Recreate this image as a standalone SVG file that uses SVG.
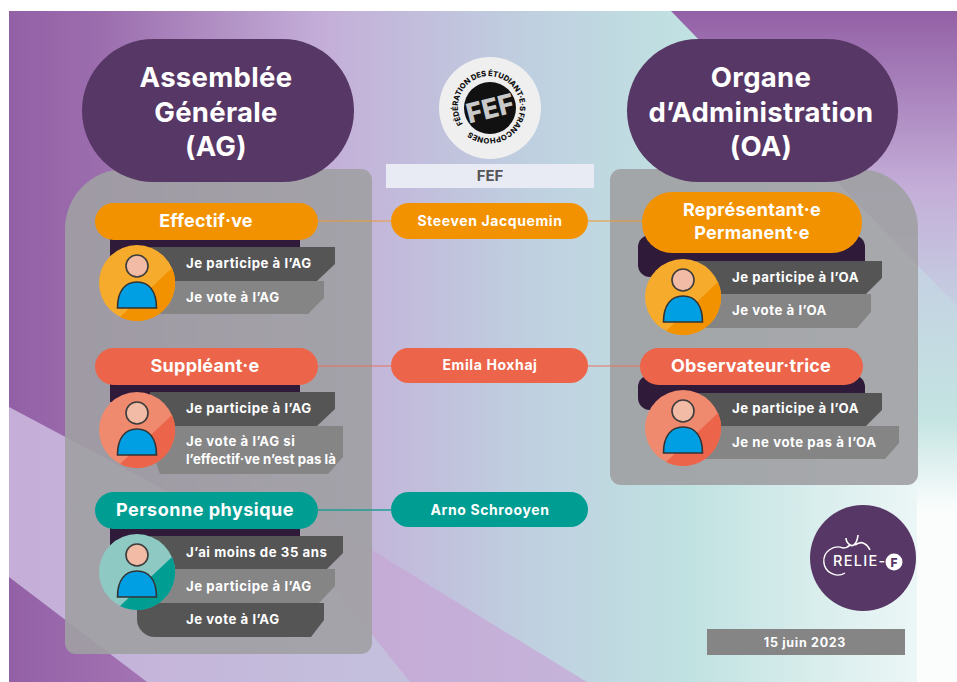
<svg xmlns="http://www.w3.org/2000/svg" width="957" height="682" viewBox="0 0 957 682">
<style>
text{font-family:Inter,"Liberation Sans",Arial,sans-serif;font-weight:700;fill:#fff}
.h{font-size:27.5px;text-anchor:middle;letter-spacing:.3px}
.p{font-size:18px;text-anchor:middle;letter-spacing:.25px}
.m{font-size:14px;text-anchor:middle;letter-spacing:.6px}
.r{font-size:13.2px;letter-spacing:.55px}
.pd{fill:#573765}
.or{fill:#f39200}.re{fill:#ec6449}.te{fill:#009d93}
.st{fill:#2f1a3a}
.d{fill:#555556}.g{fill:#858586}
.pn{fill:#a0a0a3;fill-opacity:.9}
</style>
<defs>
<linearGradient id="bg" x1="0" x2="1" y1="0" y2="0">
<stop offset="0" stop-color="#9360a6"/><stop offset=".1" stop-color="#9c6eae"/><stop offset=".33" stop-color="#c4aed8"/><stop offset=".55" stop-color="#bfd0e0"/><stop offset=".72" stop-color="#c0e2e1"/><stop offset="1" stop-color="#f4fafa"/>
</linearGradient>
<linearGradient id="tr" gradientUnits="userSpaceOnUse" x1="0" x2="0" y1="11" y2="306">
<stop offset="0" stop-color="#9360a6"/><stop offset=".6" stop-color="#c4aed8"/><stop offset="1" stop-color="#c5cfe2"/>
</linearGradient>
<linearGradient id="rs" gradientUnits="userSpaceOnUse" x1="0" x2="0" y1="250" y2="510">
<stop offset="0" stop-color="#c5cfe2"/><stop offset=".65" stop-color="#c4e4e2"/><stop offset="1" stop-color="#fbfdfd"/>
</linearGradient>
<linearGradient id="lo" x1="0" x2="1" y1="0" y2="0">
<stop offset="0" stop-color="#c5aed8"/><stop offset=".6" stop-color="#c4bfdc"/><stop offset="1" stop-color="#c4c8de" stop-opacity="0"/>
</linearGradient>
<linearGradient id="band" x1="0" x2="1" y1="0" y2="0">
<stop offset="0" stop-color="#c5a6d4"/><stop offset="1" stop-color="#c5b4da"/>
</linearGradient>
<linearGradient id="tri" x1="0" x2="1" y1="0" y2="0">
<stop offset="0" stop-color="#9360a6"/><stop offset="1" stop-color="#a374b3"/>
</linearGradient>
<g id="person">
<circle cx="0" cy="-17" r="11" fill="#f2bba5" stroke="#3c3c3c" stroke-width="1.6"/>
<path d="M-19.5,25C-19.5,8-12,-1 0,-1C12,-1 19.5,8 19.5,25Z" fill="#009fe3" stroke="#333" stroke-width="1.6"/>
</g>
<path id="wedge" d="M35,-15A38,38 0 0 1 -17,34Z"/>
<path id="seal" d="M463,124A31,31 0 1 1 472,133A31,31 0 0 1 463,124"/>
</defs>
<g id="background">
<rect x="9" y="11" width="948" height="671" fill="url(#bg)"/>
<rect x="917" y="250" width="40" height="432" fill="url(#rs)"/>
<path d="M671,11H957V306Z" fill="url(#tr)"/>
<path d="M9,407L372,600L590,682H9Z" fill="url(#lo)"/>
<path d="M240,470L372,550L587,682H410Z" fill="url(#band)"/>
<path d="M9,577L147,682H9Z" fill="url(#tri)"/>
</g>
<g id="panel-ag"><path class="pn" d="M125,169H361a11,11 0 0 1 11,11V643a11,11 0 0 1 -11,11H76a11,11 0 0 1 -11,-11V229a60,60 0 0 1 60,-60Z"/></g>
<g id="panel-oa"><path class="pn" d="M621,169H858a60,60 0 0 1 60,60V474a11,11 0 0 1 -11,11H621a11,11 0 0 1 -11,-11V180a11,11 0 0 1 11,-11Z"/></g>
<g id="connectors" stroke-width="1.2" fill="none">
<path d="M318,221H391M588,221H642" stroke="#ee9a2e"/>
<path d="M318,366H391M588,366H640" stroke="#e8725c"/>
<path d="M318,510H391" stroke="#1f9c95" stroke-width="1.6"/>
</g>
<g id="ag-title"><rect x="82" y="39" width="272" height="143" rx="71.5" class="pd"/>
<text class="h" x="216" y="87">Assemblée</text><text class="h" x="216" y="122">Générale</text><text class="h" x="216" y="156">(AG)</text></g>
<g id="oa-title"><rect x="627" y="39" width="271" height="143" rx="71.5" class="pd"/>
<text class="h" x="761" y="87">Organe</text><text class="h" x="761" y="122">d’Administration</text><text class="h" x="761" y="156">(OA)</text></g>
<g id="fef">
<circle cx="490" cy="108" r="51" fill="#efefef"/>
<circle cx="490" cy="108" r="26" fill="#111"/>
<text transform="rotate(-14 490 108)" x="490" y="118" text-anchor="middle" font-size="27" style="fill:#c9c9c9;font-weight:800">FEF</text>
<text font-size="7.6" style="fill:#111;font-weight:800"><textPath href="#seal" textLength="184" lengthAdjust="spacing">FÉDÉRATION DES ÉTUDIANT·E·S FRANCOPHONES</textPath></text>
<rect x="386" y="164" width="208" height="24" fill="#e8eaf4"/>
<text x="490" y="181" text-anchor="middle" font-size="15" style="fill:#555556">FEF</text>
</g>
<g id="effectif">
<rect x="110" y="235" width="190" height="22" class="st"/>
<path class="d" d="M150,247H335V264L317,281H150Z"/>
<path class="g" d="M150,281H324V298L308,314H150Z"/>
<rect x="95" y="203" width="223" height="37" rx="18.5" class="or"/>
<text class="p" x="206" y="227">Effectif·ve</text>
<text class="r" x="186" y="268">Je participe à l’AG</text><text class="r" x="186" y="302">Je vote à l’AG</text>
<g transform="translate(137,283)"><circle r="38" fill="#f7ab2d"/><use href="#wedge" class="or"/><use href="#person"/></g>
</g>
<g id="suppleant">
<rect x="110" y="380" width="190" height="22" class="st"/>
<path class="d" d="M150,392H335V409L317,426H150Z"/>
<path class="g" d="M143,426H343V457L328,474H160Z"/>
<rect x="95" y="348" width="223" height="37" rx="18.5" class="re"/>
<text class="p" x="205" y="372">Suppléant·e</text>
<text class="r" x="186" y="413">Je participe à l’AG</text><text class="r" x="186" y="446">Je vote à l’AG si</text><text class="r" x="186" y="464" style="letter-spacing:.05px">l’effectif·ve n’est pas là</text>
<g transform="translate(137,430)"><circle r="38" fill="#ef8a6e"/><use href="#wedge" class="re"/><use href="#person"/></g>
</g>
<g id="personne">
<rect x="110" y="523" width="190" height="24" class="st"/>
<path class="d" d="M150,536H343V553L327,569H150Z"/>
<path class="g" d="M150,569H335V586L319,603H150Z"/>
<path class="d" d="M137,603H324V620L311,637H155a18,18 0 0 1 -18,-18Z"/>
<rect x="95" y="492" width="223" height="37" rx="18.5" class="te"/>
<text class="p" x="205" y="516" style="letter-spacing:.5px">Personne physique</text>
<text class="r" x="186" y="557">J’ai moins de 35 ans</text><text class="r" x="186" y="591">Je participe à l’AG</text><text class="r" x="186" y="624">Je vote à l’AG</text>
<g transform="translate(137,572)"><circle r="38" fill="#8fc9c4"/><use href="#wedge" class="te"/><use href="#person"/></g>
</g>
<g id="steeven"><rect x="391" y="203" width="197" height="36" rx="18" class="or"/><text class="m" x="490" y="226">Steeven Jacquemin</text></g>
<g id="emila"><rect x="391" y="348" width="197" height="35" rx="17.5" class="re"/><text class="m" x="490" y="370">Emila Hoxhaj</text></g>
<g id="arno"><rect x="391" y="492" width="197" height="35" rx="17.5" class="te"/><text class="m" x="490" y="515">Arno Schrooyen</text></g>
<g id="representant">
<rect x="638" y="235" width="227" height="42" rx="12" class="st"/>
<path class="d" d="M690,261H882V278L866,294H690Z"/>
<path class="g" d="M690,294H871V312L857,328H690Z"/>
<rect x="642" y="192" width="220" height="61" rx="30" class="or"/>
<text class="p" x="752" y="216">Représentant·e</text><text class="p" x="752" y="239">Permanent·e</text>
<text class="r" x="732" y="282">Je participe à l’OA</text><text class="r" x="732" y="315">Je vote à l’OA</text>
<g transform="translate(683,297)"><circle r="38" fill="#f7ab2d"/><use href="#wedge" class="or"/><use href="#person"/></g>
</g>
<g id="observateur">
<rect x="638" y="375" width="227" height="35" rx="12" class="st"/>
<path class="d" d="M690,393H882V410L866,426H690Z"/>
<path class="g" d="M690,426H899V443L885,459H690Z"/>
<rect x="640" y="348" width="223" height="37" rx="18.5" class="re"/>
<text class="p" x="751" y="372">Observateur·trice</text>
<text class="r" x="732" y="413">Je participe à l’OA</text><text class="r" x="732" y="447">Je ne vote pas à l’OA</text>
<g transform="translate(683,428)"><circle r="38" fill="#ef8a6e"/><use href="#wedge" class="re"/><use href="#person"/></g>
</g>
<g id="relie-f">
<circle cx="863" cy="558" r="53" class="pd"/>
<path d="M843,548A14,14 0 1 0 845,573" fill="none" stroke="#fff" stroke-width="1.4"/>
<path d="M843,548C846,548 848,547 850,545C847,543 846,541 846,538M850,545C853,547 857,544 858,535M855,545C858,543 861,542 863,543C866,544 868,546 870,550" fill="none" stroke="#fff" stroke-width="1.6"/>
<text x="833" y="566" font-size="14.5" style="font-weight:500;letter-spacing:1.3px">RELIE-</text>
<circle cx="894" cy="562" r="8.5" fill="#fff"/>
<text x="894" y="566.500" font-size="12" text-anchor="middle" style="fill:#573765;font-weight:800">F</text>
</g>
<g id="date"><rect x="707" y="629" width="198" height="26" class="g"/><text x="805" y="647" text-anchor="middle" font-size="12.500" style="letter-spacing:.7px">15 juin 2023</text></g>
</svg>
